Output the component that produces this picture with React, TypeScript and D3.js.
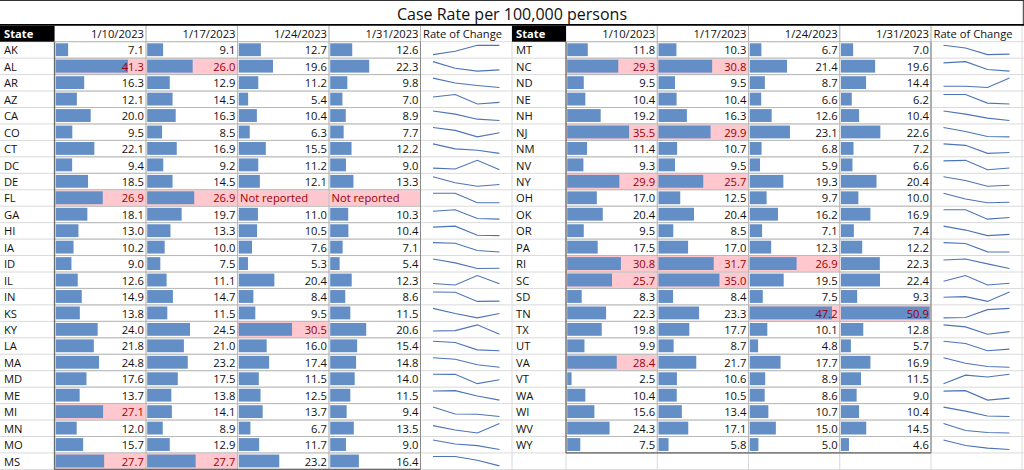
import React from "react";
import * as d3 from "d3";

// ---------- DATA ----------
const title = "Case Rate per 100,000 persons";
const dateLabels = ["1/10/2023", "1/17/2023", "1/24/2023", "1/31/2023"];
const sparkLabel = "Rate of Change";
const notReported = "Not reported";

const leftStates = ["AK","AL","AR","AZ","CA","CO","CT","DC","DE","FL","GA","HI","IA","ID","IL","IN","KS","KY","LA","MA","MD","ME","MI","MN","MO","MS"];
const leftJan10 = [7.1,41.3,16.3,12.1,20.0,9.5,22.1,9.4,18.5,26.9,18.1,13.0,10.2,9.0,12.6,14.9,13.8,24.0,21.8,24.8,17.6,13.7,27.1,12.0,15.7,27.7];
const leftJan17 = [9.1,26.0,12.9,14.5,16.3,8.5,16.9,9.2,14.5,26.9,19.7,13.3,10.0,7.5,11.1,14.7,11.5,24.5,21.0,23.2,17.5,13.8,14.1,8.9,12.9,27.7];
const leftJan24 = [12.7,19.6,11.2,5.4,10.4,6.3,15.5,11.2,12.1,null,11.0,10.5,7.6,5.3,20.4,8.4,9.5,30.5,16.0,17.4,11.5,12.5,13.7,6.7,11.7,23.2];
const leftJan31 = [12.6,22.3,9.8,7.0,8.9,7.7,12.2,9.0,13.3,null,10.3,10.4,7.1,5.4,12.3,8.6,11.5,20.6,15.4,14.8,14.0,11.5,9.4,13.5,9.0,16.4];

const rightStates = ["MT","NC","ND","NE","NH","NJ","NM","NV","NY","OH","OK","OR","PA","RI","SC","SD","TN","TX","UT","VA","VT","WA","WI","WV","WY"];
const rightJan10 = [11.8,29.3,9.5,10.4,19.2,35.5,11.4,9.3,29.9,17.0,20.4,9.5,17.5,30.8,25.7,8.3,22.3,19.8,9.9,28.4,2.5,10.4,15.6,24.3,7.5];
const rightJan17 = [10.3,30.8,9.5,10.4,16.3,29.9,10.7,9.5,25.7,12.5,20.4,8.5,17.0,31.7,35.0,8.4,23.3,17.7,8.7,21.7,10.6,10.5,13.4,17.1,5.8];
const rightJan24 = [6.7,21.4,8.7,6.6,12.6,23.1,6.8,5.9,19.3,9.7,16.2,7.1,12.3,26.9,19.5,7.5,47.2,10.1,4.8,17.7,8.9,8.6,10.7,15.0,5.0];
const rightJan31 = [7.0,19.6,14.4,6.2,10.4,22.6,7.2,6.6,20.4,10.0,16.9,7.4,12.2,22.3,22.4,9.3,50.9,12.8,5.7,16.9,11.5,9.0,10.4,14.5,4.6];

const highlightThreshold = 25;

// ---------- LAYOUT ----------
const W = 1024;
const H = 470;
const FONT = "'Open Sans', 'Noto Sans', sans-serif";
const FS = 11.2;
const HEADER_TOP = 25.5;
const BODY_TOP = 41.7;
const ROW_H = 16.45;
const BAR_COLOR = "#638EC6";
const PINK = "#FFC7CE";
const DARK_RED = "#9C0006";
const SPARK_COLOR = "#4C74B6";
const GRID = "#DADADA";
const INNER = "#B8B8B8";
const OUTLINE = "#6A6A6A";

const allValues = [
  ...leftJan10, ...leftJan17, ...leftJan24, ...leftJan31,
  ...rightJan10, ...rightJan17, ...rightJan24, ...rightJan31,
].filter((v) => v != null) as number[];
const maxValue = d3.max(allValues) as number;

type TableProps = {
  x0: number;
  stateW: number;
  colW: number;
  sparkW: number;
  states: string[];
  cols: (number | null)[][];
};

function Table({ x0, stateW, colW, sparkW, states, cols }: TableProps) {
  const fmt = d3.format(".1f");
  const dataX0 = x0 + stateW;
  const colXs = dateLabels.map((_, i) => dataX0 + i * colW);
  const sparkX = dataX0 + 4 * colW;
  const dataX1 = sparkX;
  const n = states.length;
  const rowTop = (i: number) => BODY_TOP + i * ROW_H;
  const bodyBottom = rowTop(n);
  const barScale = d3.scaleLinear().domain([0, maxValue]).range([0, colW - 2.5]);
  const sx = d3.scalePoint<number>().domain([0, 1, 2, 3]).range([sparkX + 12.5, sparkX + sparkW - 12.5]);

  return (
    <g>
      {/* header */}
      <rect x={x0} y={HEADER_TOP} width={stateW} height={BODY_TOP - HEADER_TOP} fill="#000" />
      <text x={x0 + 4} y={BODY_TOP - 4} fill="#fff" fontWeight={700} fontSize={FS} fontFamily={FONT}>State</text>
      {dateLabels.map((d, i) => (
        <text key={d} x={colXs[i] + colW - 2} y={BODY_TOP - 4} textAnchor="end" fontSize={FS} fontFamily={FONT} fill="#111">{d}</text>
      ))}
      <text x={sparkX + 2.5} y={BODY_TOP - 4} fontSize={FS} fontFamily={FONT} fill="#111">{sparkLabel}</text>

      {/* rows */}
      {states.map((s, r) => {
        const top = rowTop(r);
        const bottom = top + ROW_H;
        const vals = cols.map((c) => c[r]);
        const sparkVals = vals.map((v) => (v == null ? 0 : v));
        const ext = d3.extent(sparkVals) as [number, number];
        const sy = d3.scaleLinear().domain(ext[0] === ext[1] ? [ext[0] - 1, ext[1] + 1] : ext).range([bottom - 3.5, top + 3.5]);
        const line = d3.line<number>().x((_, i) => sx(i) as number).y((v) => sy(v));
        return (
          <g key={s}>
            <text x={x0 + 4} y={bottom - 3.8} fontSize={FS} fontFamily={FONT} fill="#111">{s}</text>
            {vals.map((v, c) => {
              const cx = colXs[c];
              const hl = v == null || v > highlightThreshold;
              return (
                <g key={c}>
                  {hl && <rect x={cx + 0.5} y={top + 0.5} width={colW - 1} height={ROW_H - 1} fill={PINK} />}
                  {v != null && (
                    <rect x={cx + 1.2} y={top + 1.6} width={barScale(v)} height={ROW_H - 3.6} fill={BAR_COLOR} />
                  )}
                  {v != null ? (
                    <text x={cx + colW - 2.2} y={bottom - 3.8} textAnchor="end" fontSize={FS} fontFamily={FONT} fill={hl ? DARK_RED : "#111"}>{fmt(v)}</text>
                  ) : (
                    <text x={cx + 2.5} y={bottom - 3.8} fontSize={FS} fontFamily={FONT} fill={DARK_RED}>{notReported}</text>
                  )}
                </g>
              );
            })}
            <path d={line(sparkVals) || ""} fill="none" stroke={SPARK_COLOR} strokeWidth={1.1} />
          </g>
        );
      })}

      {/* inner data borders */}
      {d3.range(n + 1).map((r) => (
        <line key={"h" + r} x1={dataX0} x2={dataX1} y1={rowTop(r)} y2={rowTop(r)} stroke={INNER} strokeWidth={1} />
      ))}
      {d3.range(1, 5).map((c) => (
        <line key={"v" + c} x1={dataX0 + c * colW} x2={dataX0 + c * colW} y1={HEADER_TOP} y2={bodyBottom} stroke={INNER} strokeWidth={1} />
      ))}
      {/* outline */}
      <line x1={dataX0} x2={dataX0} y1={BODY_TOP} y2={bodyBottom} stroke={OUTLINE} strokeWidth={1.3} />
      <line x1={dataX0} x2={dataX1} y1={bodyBottom} y2={bodyBottom} stroke={OUTLINE} strokeWidth={1.3} />
      <line x1={dataX1} x2={dataX1} y1={BODY_TOP} y2={bodyBottom} stroke="#8C8C8C" strokeWidth={1} />
    </g>
  );
}

export default function App() {
  const leftCols = [leftJan10, leftJan17, leftJan24, leftJan31];
  const rightCols = [rightJan10, rightJan17, rightJan24, rightJan31];
  const gridRows = d3.range(0, 28).map((i) => BODY_TOP + i * ROW_H).filter((y) => y < H);
  const gridCols = [54.5, 146, 237.5, 329, 420.5, 512, 566, 657.25, 748.5, 839.75, 931, 1022];
  return (
    <div style={{ position: "fixed", left: 0, top: 0, width: W, height: H, background: "#fff" }}>
      <svg width={W} height={H} style={{ display: "block" }}>
        <rect x={0} y={0} width={W} height={H} fill="#fff" />
        {/* light gridlines */}
        {gridRows.map((y, i) => (
          <line key={"gr" + i} x1={0} x2={W} y1={y} y2={y} stroke={GRID} strokeWidth={1} />
        ))}
        {gridCols.map((x, i) => (
          <line key={"gc" + i} x1={x} x2={x} y1={HEADER_TOP} y2={H} stroke={GRID} strokeWidth={1} />
        ))}
        <Table x0={0} stateW={54.5} colW={91.5} sparkW={91.5} states={leftStates} cols={leftCols} />
        <Table x0={512} stateW={54} colW={91.25} sparkW={91} states={rightStates} cols={rightCols} />
        {/* title */}
        <rect x={0} y={0} width={W} height={HEADER_TOP} fill="#fff" />
        <line x1={0} x2={W} y1={0.5} y2={0.5} stroke="#333" strokeWidth={1} />
        <line x1={1023.3} x2={1023.3} y1={0} y2={HEADER_TOP} stroke="#333" strokeWidth={1} />
        <text x={512} y={20} textAnchor="middle" fontSize={16} fontFamily={FONT} fill="#111">{title}</text>
        <line x1={0} x2={W} y1={HEADER_TOP - 0.6} y2={HEADER_TOP - 0.6} stroke="#000" strokeWidth={1.6} />
      </svg>
    </div>
  );
}
